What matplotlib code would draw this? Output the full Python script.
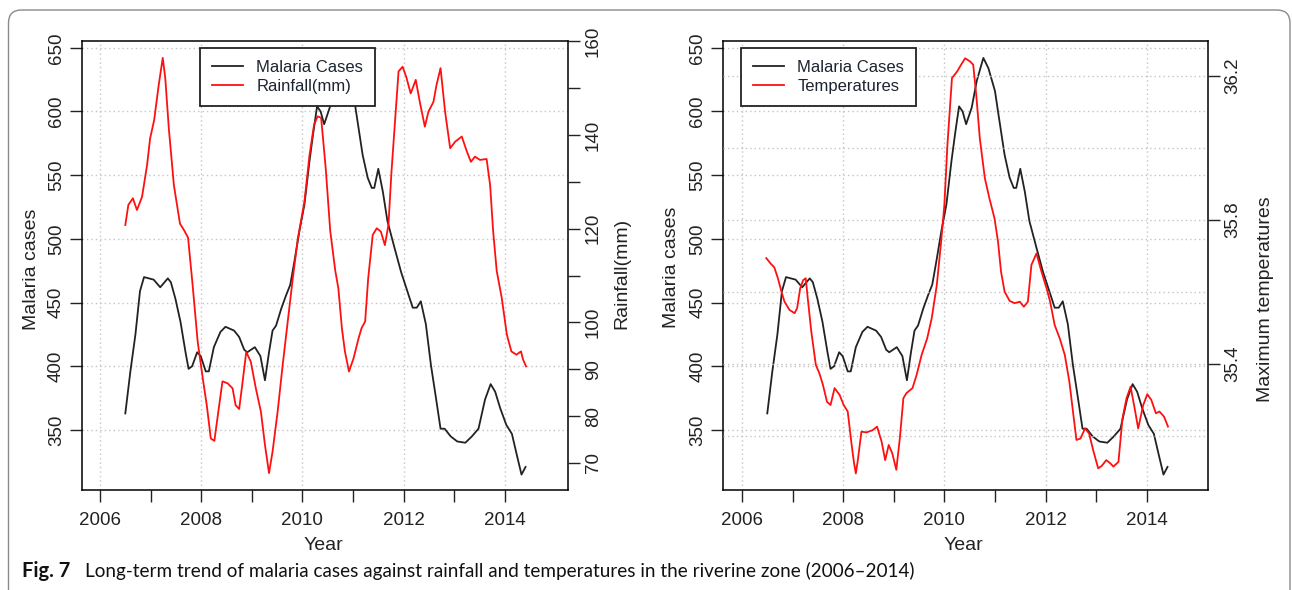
import matplotlib
matplotlib.use("Agg")
import matplotlib.pyplot as plt
from matplotlib.lines import Line2D
from matplotlib.patches import FancyBboxPatch

# --- data ---
malaria_year = [2006.50, 2006.60, 2006.70, 2006.79, 2006.87, 2007.06, 2007.19, 2007.34, 2007.40,
                2007.49, 2007.59, 2007.69, 2007.75, 2007.82, 2007.92, 2007.99, 2008.09, 2008.15,
                2008.25, 2008.38, 2008.48, 2008.65, 2008.75, 2008.85, 2008.91, 2009.06, 2009.17,
                2009.26, 2009.34, 2009.41, 2009.48, 2009.58, 2009.68, 2009.76, 2009.84, 2009.94,
                2010.04, 2010.14, 2010.21, 2010.29, 2010.36, 2010.43, 2010.54, 2010.64, 2010.77,
                2010.87, 2011.00, 2011.06, 2011.19, 2011.29, 2011.37, 2011.42, 2011.50, 2011.59,
                2011.68, 2011.82, 2011.95, 2012.09, 2012.18, 2012.26, 2012.34, 2012.44, 2012.54,
                2012.64, 2012.73, 2012.81, 2012.93, 2013.06, 2013.22, 2013.35, 2013.48, 2013.61,
                2013.72, 2013.81, 2013.91, 2014.03, 2014.14, 2014.24, 2014.33, 2014.41]
malaria_cases = [363, 396, 425, 459, 470, 468, 462, 469, 466,
                 453, 435, 411, 398, 400, 411, 408, 396, 396,
                 415, 427, 431, 428, 423, 413, 411, 415, 408,
                 389, 411, 428, 432, 445, 456, 464, 482, 506,
                 527, 561, 582, 604, 600, 590, 603, 624, 642,
                 634, 616, 600, 566, 548, 540, 540, 555, 537,
                 514, 493, 474, 457, 446, 446, 451, 433, 401,
                 375, 351, 351, 345, 341, 340, 345, 351, 374,
                 386, 380, 367, 354, 347, 330, 315, 321]

rain_year = [2006.50, 2006.56, 2006.65, 2006.73, 2006.83, 2006.93, 2006.99, 2007.07, 2007.16,
             2007.24, 2007.29, 2007.36, 2007.46, 2007.58, 2007.66, 2007.74, 2007.83, 2007.93,
             2008.03, 2008.11, 2008.19, 2008.26, 2008.32, 2008.42, 2008.52, 2008.62, 2008.68,
             2008.75, 2008.81, 2008.89, 2008.98, 2009.08, 2009.18, 2009.26, 2009.34, 2009.41,
             2009.51, 2009.61, 2009.71, 2009.81, 2009.91, 2010.04, 2010.14, 2010.23, 2010.30,
             2010.37, 2010.46, 2010.55, 2010.65, 2010.71, 2010.78, 2010.84, 2010.92, 2011.01,
             2011.11, 2011.17, 2011.24, 2011.30, 2011.39, 2011.47, 2011.55, 2011.63, 2011.70,
             2011.76, 2011.83, 2011.90, 2011.98, 2012.05, 2012.14, 2012.24, 2012.32, 2012.42,
             2012.49, 2012.59, 2012.65, 2012.73, 2012.82, 2012.92, 2013.02, 2013.15, 2013.25,
             2013.33, 2013.41, 2013.51, 2013.64, 2013.71, 2013.77, 2013.84, 2013.94, 2014.04,
             2014.13, 2014.23, 2014.32, 2014.36, 2014.42]
rainfall_mm = [120.8, 125.1, 126.5, 124.0, 126.8, 133.6, 139.3, 143.2, 150.7,
               156.5, 152.1, 141.4, 129.3, 121.1, 119.7, 118.1, 108.0, 95.9,
               88.1, 82.3, 75.2, 74.7, 79.5, 87.4, 87.0, 85.9, 82.3,
               81.5, 86.6, 93.7, 91.6, 85.9, 80.9, 73.8, 67.8, 72.4,
               80.9, 90.9, 100.2, 109.4, 117.9, 125.8, 135.7, 142.2, 144.0,
               143.7, 133.0, 119.5, 111.0, 107.3, 98.8, 93.8, 89.5, 92.3,
               96.6, 98.8, 100.2, 109.4, 118.7, 120.1, 119.4, 116.5, 120.8,
               132.1, 142.9, 153.6, 154.6, 152.5, 148.9, 151.8, 147.1, 141.8,
               145.0, 147.1, 150.7, 154.3, 145.0, 137.2, 138.6, 139.7, 136.5,
               134.3, 135.4, 134.7, 134.9, 129.3, 119.4, 111.0, 105.2, 97.4,
               93.8, 93.1, 93.8, 92.1, 90.6]

temp_year = [2006.48, 2006.56, 2006.64, 2006.71, 2006.78, 2006.84, 2006.94, 2007.04, 2007.09,
             2007.15, 2007.21, 2007.26, 2007.30, 2007.37, 2007.46, 2007.53, 2007.60, 2007.68,
             2007.75, 2007.83, 2007.93, 2008.01, 2008.09, 2008.16, 2008.21, 2008.25, 2008.29,
             2008.36, 2008.46, 2008.58, 2008.67, 2008.76, 2008.83, 2008.90, 2008.97, 2009.05,
             2009.12, 2009.19, 2009.25, 2009.37, 2009.45, 2009.55, 2009.66, 2009.75, 2009.85,
             2009.93, 2010.00, 2010.06, 2010.15, 2010.25, 2010.33, 2010.41, 2010.51, 2010.57,
             2010.63, 2010.70, 2010.80, 2010.89, 2010.99, 2011.06, 2011.12, 2011.19, 2011.29,
             2011.39, 2011.49, 2011.57, 2011.65, 2011.72, 2011.82, 2011.92, 2012.02, 2012.09,
             2012.18, 2012.28, 2012.38, 2012.47, 2012.55, 2012.61, 2012.69, 2012.78, 2012.86,
             2012.94, 2013.04, 2013.11, 2013.20, 2013.28, 2013.34, 2013.44, 2013.52, 2013.60,
             2013.68, 2013.76, 2013.83, 2013.93, 2014.01, 2014.09, 2014.18, 2014.25, 2014.34,
             2014.42]
max_temp = [35.694, 35.680, 35.668, 35.638, 35.601, 35.573, 35.550, 35.541, 35.555,
            35.610, 35.633, 35.638, 35.582, 35.490, 35.397, 35.374, 35.342, 35.295,
            35.286, 35.333, 35.314, 35.286, 35.268, 35.184, 35.129, 35.096, 35.133,
            35.212, 35.210, 35.216, 35.226, 35.184, 35.133, 35.175, 35.152, 35.106,
            35.194, 35.305, 35.319, 35.333, 35.369, 35.425, 35.471, 35.527, 35.619,
            35.731, 35.842, 36.008, 36.194, 36.212, 36.231, 36.249, 36.240, 36.231,
            36.147, 36.027, 35.916, 35.860, 35.805, 35.740, 35.656, 35.601, 35.575,
            35.569, 35.573, 35.559, 35.573, 35.675, 35.707, 35.656, 35.610, 35.573,
            35.508, 35.471, 35.425, 35.351, 35.258, 35.189, 35.193, 35.221, 35.207,
            35.161, 35.110, 35.117, 35.133, 35.124, 35.115, 35.128, 35.249, 35.305,
            35.337, 35.277, 35.221, 35.286, 35.316, 35.300, 35.263, 35.268, 35.254,
            35.226]

year_ticks = [2006, 2007, 2008, 2009, 2010, 2011, 2012, 2013, 2014]
year_labels = ["2006", "", "2008", "", "2010", "", "2012", "", "2014"]
year_grid = [2006, 2008, 2010, 2012, 2014]
cases_ticks = [350, 400, 450, 500, 550, 600, 650]
rain_ticks = [70, 80, 90, 100, 110, 120, 130, 140, 150, 160]
rain_labels = ["70", "80", "90", "100", "", "120", "", "140", "", "160"]
temp_ticks = [35.4, 35.8, 36.2]
temp_grid = [35.2, 35.4, 35.6, 35.8, 36.0, 36.2]

caption_bold = "Fig. 7"
caption_text = ("Long-term trend of malaria cases against rainfall and temperatures "
                "in the riverine zone (2006\u20132014)")

# --- styling ---
W, H = 1292, 590
FONT = "Liberation Sans"
CAPTION_FONT = ["Lato", "DejaVu Sans"]
INK = "#222222"
RED = "#ff1010"
GRID = dict(color="#c4c4c4", linestyle=(0, (1, 2.2)), linewidth=1.0)
TICK_FS = 13.5
LABEL_FS = 14
LEG_FS = 12

plt.rcParams["font.family"] = [FONT, "DejaVu Sans"]
plt.rcParams["axes.linewidth"] = 1.1

fig = plt.figure(figsize=(W / 100, H / 100), dpi=100)
fig.patch.set_facecolor("white")


def px_rect(x0, y0, x1, y1):
    return [x0 / W, 1 - y1 / H, (x1 - x0) / W, (y1 - y0) / H]


def style_ticks(ax, side):
    ax.tick_params(direction="out", length=8.5, width=1.0, colors=INK,
                   labelsize=TICK_FS, pad=3.5)
    for lab in ax.get_yticklabels():
        lab.set_rotation(90)
        lab.set_va("center")
        lab.set_ha("right" if side == "left" else "left")


def draw_panel(rect, xlim, other_x, other_y, other_ticks, other_labels, other_lim,
               other_name, other_label, label_pos, year_x, legend_x):
    ax = fig.add_axes(px_rect(*rect))
    ax.plot(malaria_year, malaria_cases, color=INK, lw=1.3, zorder=3)
    ax.set_xlim(*xlim)
    ax.set_ylim(302.9, 655.3)
    ax.set_xticks(year_ticks)
    ax.set_xticklabels(year_labels)
    ax.set_yticks(cases_ticks)
    ax.set_yticklabels([str(v) for v in cases_ticks])
    for yr in year_grid:
        ax.axvline(yr, zorder=1, **GRID)
    for v in cases_ticks:
        ax.axhline(v, zorder=1, **GRID)
    style_ticks(ax, "left")
    ax.tick_params(axis="x", pad=7.5)

    ax2 = ax.twinx()
    ax2.plot(other_x, other_y, color=RED, lw=1.3, zorder=3)
    ax2.set_ylim(*other_lim)
    ax2.set_yticks(other_ticks)
    ax2.set_yticklabels(other_labels)
    style_ticks(ax2, "right")
    for sp in ax2.spines.values():
        sp.set_visible(False)

    handles = [Line2D([], [], color=INK, lw=1.3), Line2D([], [], color=RED, lw=1.3)]
    leg = ax2.legend(handles, ["Malaria Cases", other_name], loc="upper left",
                     bbox_to_anchor=(legend_x / W, 1 - 48 / H),
                     bbox_transform=fig.transFigure, fontsize=LEG_FS,
                     frameon=True, fancybox=False, framealpha=1, edgecolor="#222222",
                     borderpad=0.72, borderaxespad=0, handlelength=1.86,
                     handletextpad=0.8, labelspacing=0.26)
    leg.get_frame().set_linewidth(1.3)
    for t in leg.get_texts():
        t.set_color("#1c2430")

    (lx, ly), (rx, ry) = label_pos
    fig.text(lx / W, 1 - ly / H, "Malaria cases", rotation=90,
             ha="center", va="center", fontsize=LABEL_FS, color=INK)
    fig.text(rx / W, 1 - ry / H, other_label, rotation=90,
             ha="center", va="center", fontsize=LABEL_FS, color=INK)
    fig.text(year_x / W, 1 - 546 / H, "Year", ha="center", va="center",
             fontsize=LABEL_FS, color=INK)
    return ax, ax2


# left: malaria vs rainfall
draw_panel((81.7, 41, 568, 490), (2005.638, 2015.249), rain_year, rainfall_mm,
           rain_ticks, rain_labels, (64.2, 160.1), "Rainfall(mm)", "Rainfall(mm)",
           ((31, 269), (622, 273)), 323, 200)

# right: malaria vs maximum temperatures
ax_r, ax_r2 = draw_panel((723, 41, 1208, 490), (2005.625, 2015.21), temp_year, max_temp,
                         temp_ticks, [str(v) for v in temp_ticks], (35.05, 36.297),
                         "Temperatures", "Maximum temperatures",
                         ((671, 267), (1266, 299)), 963, 741)
for v in temp_grid:
    ax_r2.axhline(v, zorder=1, **GRID)

# caption and the journal frame
fig.text(22 / W, 1 - 571 / H, caption_bold, ha="left", va="center", fontsize=14.5,
         fontweight="bold", family=CAPTION_FONT, color="#111111")
fig.text(85 / W, 1 - 571 / H, caption_text, ha="left", va="center", fontsize=13.6,
         family=CAPTION_FONT, color="#111111")

frame = FancyBboxPatch((0.085, -0.3), 12.815, 6.1, boxstyle="round,pad=0,rounding_size=0.13",
                       transform=fig.dpi_scale_trans, facecolor="none",
                       edgecolor="#8a8a8a", linewidth=1.0, clip_on=False)
fig.patches.append(frame)

fig.savefig("out.png", dpi=100)
